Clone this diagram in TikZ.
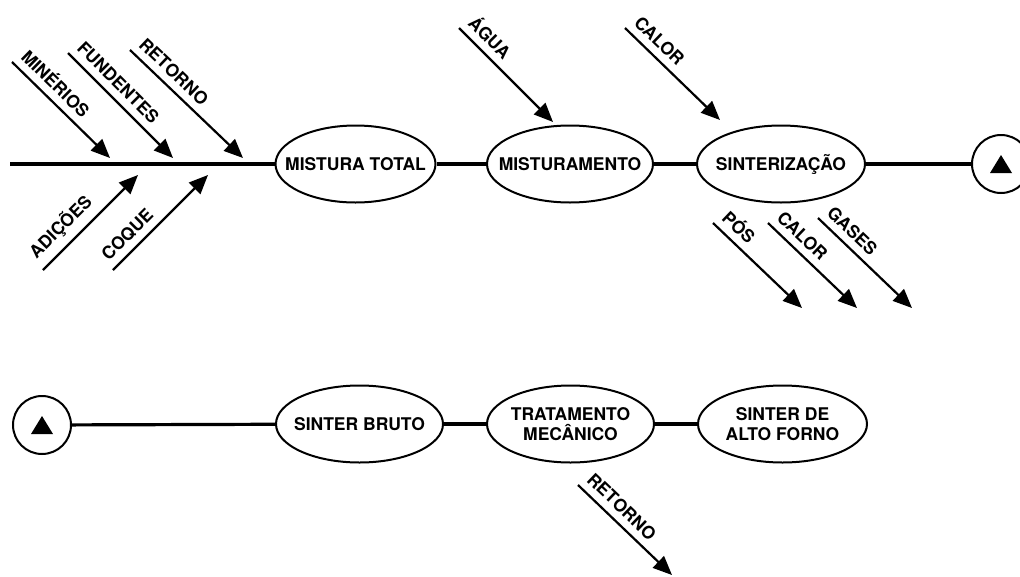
\documentclass[tikz,border=0pt]{standalone}
\usepackage{fontspec}
\setmainfont{TeX Gyre Heros}
\usetikzlibrary{shapes.geometric,arrows.meta}
\tikzset{
  stage/.style={draw, ellipse, line width=2pt, minimum width=166pt, minimum height=77pt, inner sep=0pt},
  stagetext/.style={font=\fontsize{17.5}{20}\selectfont\bfseries, align=center},
  link/.style={line width=3.2pt},
  feed/.style={line width=2.2pt, ->, >={Triangle[length=19pt,width=16pt]}},
  feedlabel/.style={font=\fontsize{17.5}{20}\selectfont\bfseries, sloped, pos=0, anchor=south west, inner xsep=2pt, inner ysep=7pt},
  marker/.style={draw, circle, line width=2pt, minimum size=58pt, inner sep=0pt}
}
\begin{document}
\begin{tikzpicture}[x=1pt, y=-1pt]
\useasboundingbox (0,0) rectangle (1020,576);

% upper row
\coordinate (in) at (10,164);
\node[stage, minimum width=160pt] (mt) at (355.5,164) {};
\node[stagetext] (mt-t) at (mt) {MISTURA TOTAL};
\node[stage] (mix) at (570,164) {};
\node[stagetext] (mix-t) at (mix) {MISTURAMENTO};
\node[stage, minimum width=168pt] (sint) at (781,164) {};
\node[stagetext] (sint-t) at (sint) {SINTERIZAÇÃO};
\node[marker] (endA) at (1001,164) {};
\fill (endA) ++(-11,9) -- ++(22,0) -- ++(-11,-18) -- cycle;

\draw[link] (in) -- (mt);
\draw[link] (mt) -- (mix);
\draw[link] (mix) -- (sint);
\draw[link] (sint) -- (endA);

% lower row
\node[marker] (endB) at (42,425) {};
\fill (endB) ++(-11,9) -- ++(22,0) -- ++(-11,-18) -- cycle;
\node[stage, minimum width=167pt] (bruto) at (359.5,424) {};
\node[stagetext] (bruto-t) at (bruto) {SINTER BRUTO};
\node[stage, minimum width=167pt] (trat) at (570.5,424) {};
\node[stagetext] (trat-t) at (trat) {TRATAMENTO\\MECÂNICO};
\node[stage, minimum width=169pt] (alto) at (782.5,424) {};
\node[stagetext] (alto-t) at (alto) {SINTER DE\\ALTO FORNO};

\draw[link] (endB) -- (bruto);
\draw[link] (bruto) -- (trat);
\draw[link] (trat) -- (alto);

% inputs and outputs
\foreach \n/\sx/\sy/\ex/\ey/\txt in {
  min/12/62/110/158/MINÉRIOS,
  fun/68/53/173/158/FUNDENTES,
  ret/130/50/243/158/RETORNO,
  adi/43/270/138/175/ADIÇÕES,
  coq/113/270/208/175/COQUE,
  agu/459/28/553/122/ÁGUA,
  cal/625/28/720/120/CALOR,
  po/713/223/802/308/PÓS,
  cao/768/223/857/308/CALOR,
  gas/818/218/912/308/GASES,
  rt/578/485/672/575/RETORNO}
{
  \coordinate (\n-a) at (\sx,\sy);
  \coordinate (\n-b) at (\ex,\ey);
  \draw[feed] (\n-a) -- (\n-b) node[feedlabel] (\n-t) {\txt};
}
\end{tikzpicture}
\end{document}
